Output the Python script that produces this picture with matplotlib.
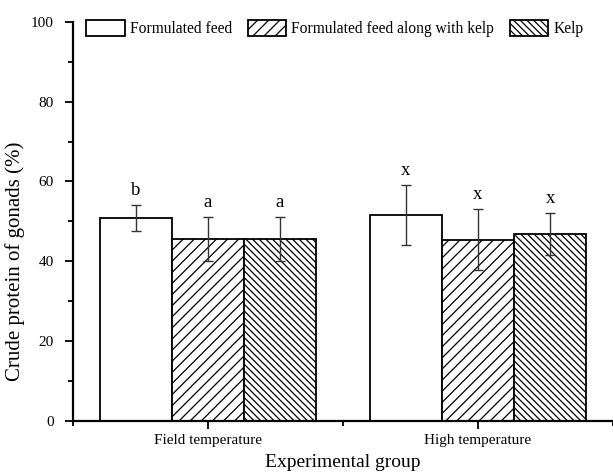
import matplotlib
matplotlib.use('Agg')
import matplotlib.pyplot as plt
import numpy as np
from matplotlib.ticker import MultipleLocator

plt.rcParams['font.family'] = ['Liberation Serif', 'DejaVu Serif']
plt.rcParams['hatch.linewidth'] = 0.9

groups = ['Field temperature', 'High temperature']
series = ['Formulated feed', 'Formulated feed along with kelp', 'Kelp']
means = [[50.8, 51.6], [45.5, 45.4], [45.5, 46.8]]
errors = [[3.2, 7.6], [5.5, 7.7], [5.5, 5.3]]
letters = [['b', 'x'], ['a', 'x'], ['a', 'x']]
hatches = ['', '///', '\\\\\\\\\\']

fig = plt.figure(figsize=(6.13, 4.75), dpi=100)
ax = fig.add_axes([0.119, 0.114, 0.881, 0.840])

centers = np.array([0.5, 1.5])
width = 0.267
for i in range(3):
    x = centers + (i - 1) * width
    ax.bar(x, means[i], width, yerr=errors[i], color='white', edgecolor='black',
           linewidth=1.3, hatch=hatches[i], label=series[i],
           error_kw=dict(ecolor='#333333', elinewidth=1.0, capsize=3.6, capthick=1.0))
    for j in range(2):
        ax.text(x[j], means[i][j] + errors[i][j] + 1.5, letters[i][j],
                ha='center', va='bottom', fontsize=13.5)

ax.set_xlim(0, 2)
ax.set_ylim(0, 100)
ax.set_xticks(centers)
ax.set_xticklabels(groups, fontsize=11.5)
ax.set_xticks([0, 1, 2], minor=True)
ax.yaxis.set_major_locator(MultipleLocator(20))
ax.yaxis.set_minor_locator(MultipleLocator(10))
ax.tick_params(axis='both', which='both', direction='out', width=1.3)
ax.tick_params(axis='both', which='major', length=6, labelsize=11)
ax.tick_params(axis='y', which='major', pad=8)
ax.tick_params(axis='both', which='minor', length=3.5)
for s in ['top', 'right']:
    ax.spines[s].set_visible(False)
for s in ['left', 'bottom']:
    ax.spines[s].set_linewidth(1.6)

ax.set_ylabel('Crude protein of gonads (%)', fontsize=15)
ax.yaxis.set_label_coords(-0.088, 0.40)
ax.set_xlabel('Experimental group', fontsize=14, labelpad=5)

ax.legend(loc='upper left', bbox_to_anchor=(0.013, 1.02), ncol=3, frameon=False,
          fontsize=11.2, handlelength=2.5, handleheight=1.2, handletextpad=0.3,
          columnspacing=1.0, borderaxespad=0)

fig.savefig('out.png', dpi=100)
